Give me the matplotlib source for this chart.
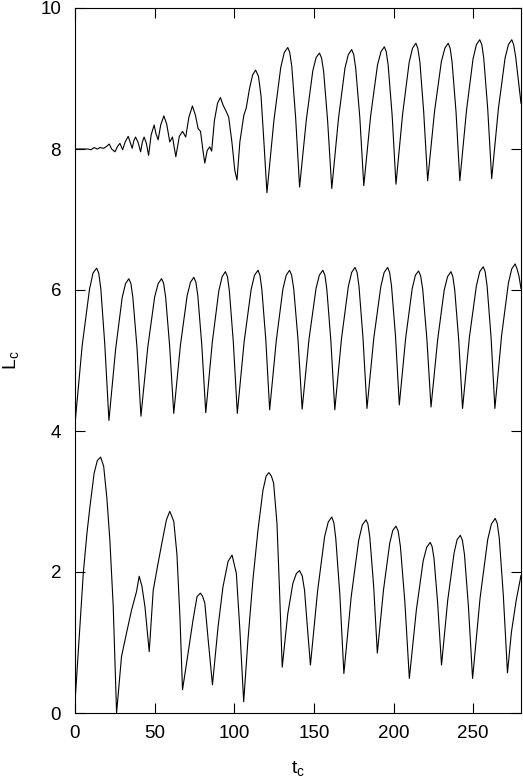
import matplotlib
matplotlib.use('Agg')
import matplotlib.pyplot as plt

# values (t_c, L_c)
top_t = [0, 8, 10, 12, 14, 15.7, 18, 20, 21.5, 23, 25.1, 26.8, 28.2, 29.9,
         31.5, 33.4, 35.9, 37, 38, 39.5, 41.2, 42.3, 43.4, 44.8, 46.2, 47.8,
         49.7, 50.8, 52.2, 53.8, 55.8, 57.6, 59.5, 61.2, 63.3, 65.5, 67.5,
         69.5, 71.5, 73.7, 75.6, 77.3, 78.8, 80.5, 81.5, 83, 84.6, 85.8, 87.5,
         89.5, 91.3, 93, 95, 96.5, 98.5, 100.3, 101.7, 103.5, 106, 107.5,
         109.5, 111.5, 113.4, 115.2, 116.8, 118.6, 120.5, 124.9, 129.2, 131.4,
         133.6, 134.8, 136.1, 138.5, 141.0, 145.2, 149.3, 151.4,
         153.5, 154.8, 156.1, 158.6, 161.2, 165.4, 169.5, 171.6,
         173.7, 175.0, 176.2, 178.8, 181.3, 185.6, 189.9, 192.1,
         194.2, 195.4, 196.6, 199.1, 201.5, 205.7, 209.8, 211.9,
         214.0, 215.2, 216.5, 218.9, 221.4, 225.7, 230.0, 232.2,
         234.3, 235.5, 236.7, 239.2, 241.6, 245.8, 249.9, 252.0,
         254.1, 255.4, 256.6, 259.1, 261.6, 265.8, 270.0, 272.1,
         274.2, 275.4, 276.7, 278.5, 280.0]
top_L = [8.00, 8.00, 7.99, 8.02, 8.00, 8.02, 8.01, 8.04, 8.07, 8.00, 7.96, 8.04, 8.08, 7.99,
         8.10, 8.18, 8.01, 8.12, 8.17, 8.10, 7.96, 8.10, 8.17, 8.08, 7.91, 8.20,
         8.34, 8.22, 8.13, 8.34, 8.47, 8.35, 8.10, 8.17, 7.89, 8.18, 8.25,
         8.17, 8.45, 8.61, 8.48, 8.29, 8.25, 7.95, 7.80, 7.98, 8.03, 7.97, 8.40,
         8.65, 8.73, 8.62, 8.53, 8.45, 8.10, 7.70, 7.56, 8.10, 8.48, 8.58,
         8.85, 9.05, 9.12, 9.03, 8.75, 8.10, 7.38, 8.41, 9.16, 9.37,
         9.44, 9.37, 9.17, 8.45, 7.46, 8.41, 9.11, 9.30,
         9.36, 9.29, 9.10, 8.40, 7.44, 8.43, 9.15, 9.34,
         9.41, 9.34, 9.15, 8.45, 7.48, 8.47, 9.19, 9.38,
         9.45, 9.38, 9.19, 8.48, 7.50, 8.50, 9.23, 9.43,
         9.50, 9.43, 9.24, 8.53, 7.55, 8.53, 9.24, 9.43,
         9.50, 9.43, 9.24, 8.53, 7.55, 8.55, 9.28, 9.48,
         9.55, 9.48, 9.29, 8.57, 7.58, 8.57, 9.29, 9.48,
         9.55, 9.48, 9.30, 8.95, 8.65]

mid_t = [0, 4.5, 9.1, 11.3,
         13.6, 14.9, 16.2, 18.7, 21.3, 25.5, 29.6, 31.7,
         33.8, 35.1, 36.3, 38.9, 41.4, 45.7, 50.0, 52.2,
         54.3, 55.6, 56.9, 59.4, 62.0, 66.2, 70.4, 72.5,
         74.6, 75.9, 77.1, 79.6, 82.1, 86.2, 90.3, 92.4,
         94.4, 95.7, 96.9, 99.4, 101.9, 106.2, 110.6, 112.7,
         114.9, 116.1, 117.3, 119.8, 122.2, 126.4, 130.5, 132.6,
         134.7, 136.0, 137.3, 140.0, 142.6, 146.9, 151.3, 153.4,
         155.6, 156.9, 158.1, 160.6, 163.1, 167.3, 171.6, 173.7,
         175.8, 177.1, 178.3, 180.8, 183.3, 187.6, 192.0, 194.1,
         196.3, 197.5, 198.7, 201.2, 203.6, 207.6, 211.7, 213.7,
         215.7, 217.0, 218.3, 220.9, 223.5, 227.7, 231.8, 233.9,
         236.0, 237.2, 238.4, 240.9, 243.3, 247.6, 252.0, 254.1,
         256.3, 257.5, 258.7, 261.2, 263.6, 267.8, 272.1, 274.2,
         276.3, 277.5, 278.7, 280.0]
mid_L = [4.10, 5.21, 6.01, 6.24,
         6.31, 6.24, 6.02, 5.23, 4.15, 5.16, 5.89, 6.09,
         6.16, 6.09, 5.90, 5.19, 4.21, 5.19, 5.90, 6.09,
         6.16, 6.10, 5.90, 5.21, 4.25, 5.22, 5.92, 6.11,
         6.18, 6.11, 5.92, 5.22, 4.26, 5.26, 5.99, 6.19,
         6.26, 6.19, 5.99, 5.26, 4.25, 5.27, 6.01, 6.21,
         6.28, 6.21, 6.01, 5.29, 4.30, 5.29, 6.01, 6.21,
         6.28, 6.21, 6.02, 5.30, 4.31, 5.30, 6.02, 6.21,
         6.28, 6.21, 6.01, 5.29, 4.30, 5.31, 6.05, 6.25,
         6.32, 6.25, 6.05, 5.32, 4.32, 5.32, 6.05, 6.25,
         6.32, 6.25, 6.06, 5.35, 4.37, 5.32, 6.02, 6.21,
         6.27, 6.20, 6.01, 5.31, 4.34, 5.30, 6.00, 6.19,
         6.26, 6.19, 6.00, 5.29, 4.32, 5.33, 6.06, 6.26,
         6.33, 6.26, 6.06, 5.33, 4.32, 5.35, 6.10, 6.30,
         6.37, 6.30, 6.20, 6.02]

bot_t = [0, 3.0, 5.2, 7.5, 9.4, 12.0, 14.0, 16.1, 18.0, 20.0, 21.9, 24.0, 26.1,
         29.2, 32.3, 35.5, 38.6, 40.3, 42.0, 43.9, 46.6,
         49.1, 52.2, 55.3, 57.4, 59.5, 62.0, 64.0, 65.9, 67.5,
         71.0, 74.1, 76.6, 78.7, 80.0, 81.5, 83.6, 86.3,
         89.8, 92.9, 96.1, 98.6, 101.3, 103.4, 105.9,
         108.6, 111.7, 114.9, 118.0, 120.0, 121.7, 123.3, 124.7, 126.8, 128.4, 130.1,
         133.6, 136.8, 139.0, 141.0, 142.7, 144.1, 146.2, 147.8,
         152.3, 156.7, 159.0, 161.2, 162.5, 163.7, 166.3, 168.8,
         173.4, 178.1, 180.4, 182.7, 183.9, 185.1, 187.5, 189.8,
         193.7, 197.6, 199.5, 201.5, 202.9, 204.3, 207.1, 209.9,
         214.3, 218.6, 220.8, 223.0, 224.2, 225.4, 227.7, 230.1,
         234.0, 238.0, 239.9, 241.9, 243.2, 244.5, 247.0, 249.6,
         254.3, 259.1, 261.4, 263.8, 265.1, 266.4, 268.9, 271.5,
         274.0, 277.0, 280.0]
bot_L = [0.15, 1.20, 1.98, 2.55, 2.93, 3.40, 3.58, 3.63, 3.50, 3.05, 2.45, 1.51, 0.00,
         0.80, 1.13, 1.46, 1.72, 1.94, 1.80, 1.51, 0.87,
         1.74, 2.13, 2.50, 2.74, 2.86, 2.72, 2.25, 1.35, 0.33,
         0.85, 1.32, 1.65, 1.70, 1.66, 1.56, 1.04, 0.40,
         1.22, 1.79, 2.15, 2.24, 1.98, 1.22, 0.16,
         1.04, 1.89, 2.60, 3.16, 3.36, 3.41, 3.36, 3.26, 2.69, 1.74, 0.65,
         1.41, 1.84, 1.98, 2.02, 1.94, 1.74, 1.13, 0.68,
         1.73, 2.50, 2.71, 2.78, 2.70, 2.48, 1.67, 0.56,
         1.65, 2.45, 2.67, 2.74, 2.68, 2.49, 1.80, 0.85,
         1.75, 2.41, 2.59, 2.65, 2.58, 2.36, 1.57, 0.49,
         1.46, 2.16, 2.35, 2.42, 2.36, 2.19, 1.55, 0.68,
         1.60, 2.27, 2.46, 2.52, 2.45, 2.25, 1.51, 0.49,
         1.63, 2.46, 2.68, 2.76, 2.69, 2.47, 1.67, 0.57,
         1.15, 1.60, 1.95]

x_ticks = [0, 50, 100, 150, 200, 250]
y_ticks = [0, 2, 4, 6, 8, 10]

plt.rcParams['font.family'] = ['Liberation Sans', 'DejaVu Sans']
plt.rcParams['mathtext.fontset'] = 'custom'
plt.rcParams['mathtext.rm'] = 'Liberation Sans'

fig = plt.figure(figsize=(5.23, 7.82), dpi=100)
ax = fig.add_axes([75 / 523, 1 - 713 / 782, 446 / 523, 705 / 782])

for t, L in [(top_t, top_L), (mid_t, mid_L), (bot_t, bot_L)]:
    ax.plot(t, L, color='black', linewidth=0.8)

ax.set_xlim(0, 280)
ax.set_ylim(0, 10)
ax.set_xticks(x_ticks)
ax.set_yticks(y_ticks)
ax.tick_params(direction='in', top=True, right=True, length=7, width=0.8,
               labelsize=13.5)
ax.tick_params(axis='x', pad=9)
ax.tick_params(axis='y', pad=10)
for sp in ax.spines.values():
    sp.set_linewidth(0.8)

ax.set_xlabel(r'$\mathregular{t_c}$', fontsize=14, labelpad=12)
ax.set_ylabel(r'$\mathregular{L_c}$', fontsize=14, labelpad=14)

fig.savefig('out.png', dpi=100)
plt.close()
